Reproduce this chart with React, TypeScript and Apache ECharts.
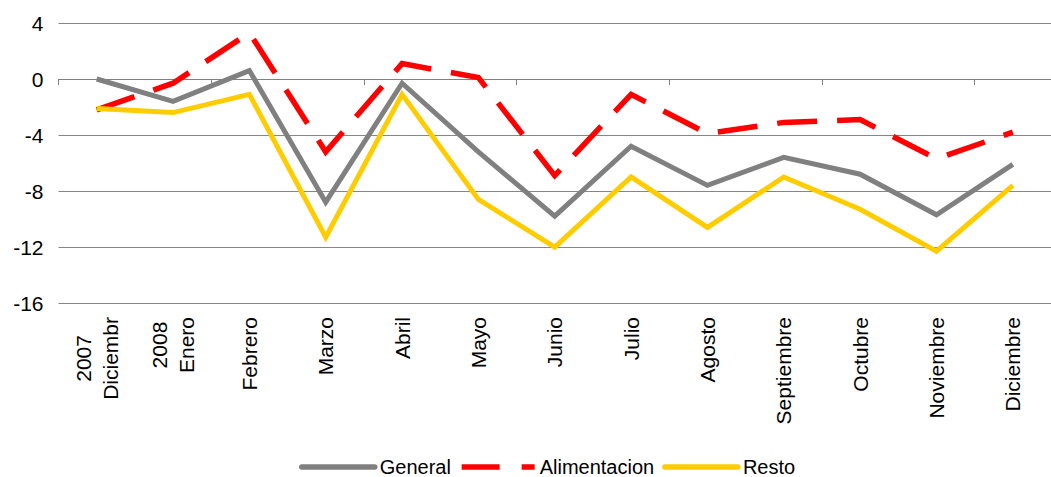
import React, { useEffect, useRef } from "react";
import * as echarts from "echarts";

const categories = [
  "2007\nDiciembr",
  "2008\nEnero",
  "Febrero",
  "Marzo",
  "Abril",
  "Mayo",
  "Junio",
  "Julio",
  "Agosto",
  "Septiembre",
  "Octubre",
  "Noviembre",
  "Diciembre",
];

const general = [0, -1.6, 0.6, -8.8, -0.3, -5.2, -9.8, -4.8, -7.6, -5.6, -6.8, -9.7, -6.1];
const alimentacion = [-2.2, -0.3, 3.3, -5.2, 1.1, 0.1, -6.9, -1.1, -3.9, -3.1, -2.9, -5.7, -3.8];
const resto = [-2.1, -2.4, -1.1, -11.3, -1.1, -8.6, -12.0, -7.0, -10.6, -7.0, -9.3, -12.3, -7.6];

const yTicks = { min: -16, max: 4, interval: 4 };

const FONT = "'Liberation Sans', Arial, sans-serif";
const AXIS_FS = 21;

function measure(text: string): number {
  const c = document.createElement("canvas");
  const ctx = c.getContext("2d");
  if (!ctx) return text.length * AXIS_FS * 0.55;
  ctx.font = `${AXIS_FS}px ${FONT}`;
  return ctx.measureText(text).width;
}

export default function App() {
  const ref = useRef<HTMLDivElement>(null);

  useEffect(() => {
    if (!ref.current) return;
    const chart = echarts.init(ref.current, null, { renderer: "svg" });

    const rich: Record<string, any> = {};
    categories.forEach((c, i) => {
      const parts = c.split("\n");
      if (parts.length > 1) {
        const w0 = measure(parts[0]);
        const w1 = measure(parts[1]);
        const pad = Math.max(0, (w1 - w0) / 2);
        rich["a" + i] = { padding: [0, pad, 0, 0], fontSize: AXIS_FS, fontFamily: FONT, color: "#000", lineHeight: 27 };
        rich["b" + i] = { fontSize: AXIS_FS, fontFamily: FONT, color: "#000", lineHeight: 27 };
      }
    });

    const hiddenSymbol = { opacity: 0, borderWidth: 0 };

    chart.setOption({
      animation: false,
      backgroundColor: "#ffffff",
      grid: { left: 58.5, right: -12.5, top: 23, bottom: 174, containLabel: false },
      legend: {
        left: 294,
        top: 452,
        itemWidth: 73,
        itemHeight: 12,
        itemGap: 8,
        textStyle: { fontSize: 20, fontFamily: FONT, color: "#000", lineHeight: 18 },
        data: [
          { name: "General", itemStyle: hiddenSymbol, lineStyle: { width: 5.5, cap: "round", color: "#808080" } },
          { name: "Alimentacion", itemStyle: hiddenSymbol, lineStyle: { width: 5.5, type: [38, 22], cap: "butt", color: "#ff0000" } },
          { name: "Resto", itemStyle: hiddenSymbol, lineStyle: { width: 5.5, cap: "round", color: "#ffcc00" } },
        ],
      },
      xAxis: [
        {
          type: "category",
          data: categories,
          position: "bottom",
          boundaryGap: true,
          axisLine: { show: false, onZero: false },
          axisTick: { show: false },
          splitLine: { show: false },
          axisLabel: {
            interval: 0,
            rotate: 90,
            margin: 14,
            fontSize: AXIS_FS,
            fontFamily: FONT,
            color: "#000",
            lineHeight: 27,
            formatter: (v: string, i: number) => {
              const parts = v.split("\n");
              if (parts.length > 1) return `{a${i}|${parts[0]}}\n{b${i}|${parts[1]}}`;
              return v;
            },
            rich,
          },
        },
        {
          type: "category",
          data: categories,
          position: "bottom",
          boundaryGap: true,
          axisLine: { show: true, onZero: true, lineStyle: { color: "#808080", width: 1 } },
          axisTick: { show: true, length: 6, lineStyle: { color: "#808080", width: 1 } },
          axisLabel: { show: false },
          splitLine: { show: false },
        },
      ],
      yAxis: {
        type: "value",
        min: yTicks.min,
        max: yTicks.max,
        interval: yTicks.interval,
        axisLine: { show: false },
        axisTick: { show: false },
        axisLabel: { fontSize: AXIS_FS, fontFamily: FONT, color: "#000", margin: 15 },
        splitLine: { show: true, lineStyle: { color: "#868686", width: 1 } },
      },
      series: [
        {
          name: "General",
          type: "line",
          xAxisIndex: 0,
          data: general,
          symbol: "none",
          color: "#808080",
          lineStyle: { color: "#808080", width: 5, join: "miter" },
        },
        {
          name: "Alimentacion",
          type: "line",
          xAxisIndex: 0,
          data: alimentacion,
          symbol: "none",
          color: "#ff0000",
          lineStyle: { color: "#ff0000", width: 5.5, type: [40, 20], cap: "butt", join: "miter" },
        },
        {
          name: "Resto",
          type: "line",
          xAxisIndex: 0,
          data: resto,
          symbol: "none",
          color: "#ffcc00",
          lineStyle: { color: "#ffcc00", width: 5, join: "miter" },
        },
      ],
    });

    return () => chart.dispose();
  }, []);

  return (
    <div
      ref={ref}
      style={{ position: "absolute", left: 0, top: 0, width: 1051, height: 477, overflow: "hidden" }}
    />
  );
}
